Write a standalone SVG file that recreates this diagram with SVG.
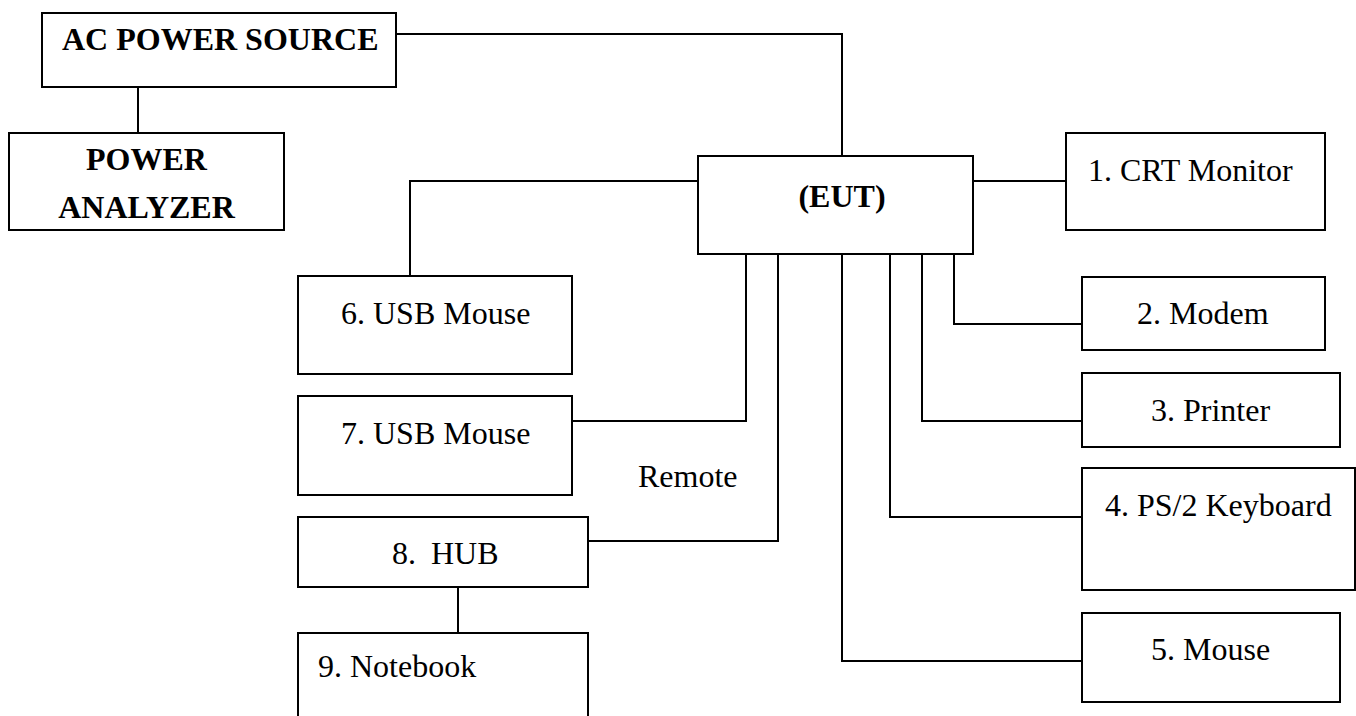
<svg xmlns="http://www.w3.org/2000/svg" width="1356" height="716" viewBox="0 0 1356 716">
  <style>
    .box { fill: #ffffff; stroke: #000000; stroke-width: 2; }
    .wire { fill: none; stroke: #000000; stroke-width: 2; }
    .lbl { font-family: "Liberation Serif", "Times New Roman", serif; font-size: 32px; fill: #000000; }
    .bold { font-weight: bold; }
  </style>
  <rect x="0" y="0" width="1356" height="716" fill="#ffffff"/>

  <!-- cabling between units -->
  <g id="connectors">
    <polyline class="wire" points="396,34 842,34 842,156"/>
    <line class="wire" x1="138" y1="87" x2="138" y2="133"/>
    <polyline class="wire" points="698,181 410,181 410,276"/>
    <line class="wire" x1="973" y1="181" x2="1066" y2="181"/>
    <polyline class="wire" points="746,254 746,421 572,421"/>
    <polyline class="wire" points="778,254 778,541 588,541"/>
    <polyline class="wire" points="842,254 842,661 1082,661"/>
    <polyline class="wire" points="890,254 890,517 1082,517"/>
    <polyline class="wire" points="922,254 922,421 1082,421"/>
    <polyline class="wire" points="954,254 954,324 1082,324"/>
    <line class="wire" x1="458" y1="587" x2="458" y2="633"/>
  </g>

  <g id="ac-power-source">
    <rect class="box" x="42" y="13" width="354" height="74"/>
    <text class="lbl bold" x="62" y="50">AC POWER SOURCE</text>
  </g>

  <g id="power-analyzer">
    <rect class="box" x="9" y="133" width="275" height="97"/>
    <text class="lbl bold" x="146.5" y="170" text-anchor="middle">POWER</text>
    <text class="lbl bold" x="146.5" y="218" text-anchor="middle">ANALYZER</text>
  </g>

  <g id="eut">
    <rect class="box" x="698" y="156" width="275" height="98"/>
    <text class="lbl bold" x="842" y="207" text-anchor="middle">(EUT)</text>
  </g>

  <g id="crt-monitor">
    <rect class="box" x="1066" y="133" width="259" height="97"/>
    <text class="lbl" x="1088" y="181">1. CRT Monitor</text>
  </g>

  <g id="modem">
    <rect class="box" x="1082" y="277" width="243" height="73"/>
    <text class="lbl" x="1137" y="324">2. Modem</text>
  </g>

  <g id="printer">
    <rect class="box" x="1082" y="373" width="258" height="74"/>
    <text class="lbl" x="1151" y="421">3. Printer</text>
  </g>

  <g id="ps2-keyboard">
    <rect class="box" x="1082" y="468" width="273" height="122"/>
    <text class="lbl" x="1105" y="516">4. PS/2 Keyboard</text>
  </g>

  <g id="mouse">
    <rect class="box" x="1082" y="613" width="258" height="89"/>
    <text class="lbl" x="1151" y="660">5. Mouse</text>
  </g>

  <g id="usb-mouse-6">
    <rect class="box" x="298" y="276" width="274" height="98"/>
    <text class="lbl" x="341" y="324">6. USB Mouse</text>
  </g>

  <g id="usb-mouse-7">
    <rect class="box" x="298" y="396" width="274" height="99"/>
    <text class="lbl" x="341" y="444">7. USB Mouse</text>
  </g>

  <g id="remote-label">
    <text class="lbl" x="638" y="487">Remote</text>
  </g>

  <g id="hub">
    <rect class="box" x="298" y="517" width="290" height="70"/>
    <text class="lbl" y="564"><tspan x="392">8.</tspan><tspan x="431">HUB</tspan></text>
  </g>

  <g id="notebook">
    <rect class="box" x="298" y="633" width="290" height="100"/>
    <text class="lbl" x="318" y="677">9. Notebook</text>
  </g>
</svg>
